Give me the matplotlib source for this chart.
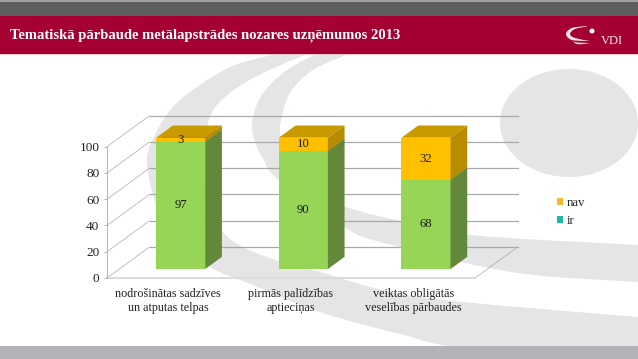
import matplotlib
matplotlib.use("Agg")
import matplotlib.pyplot as plt
from matplotlib.patches import Polygon, PathPatch, Ellipse, Rectangle, Patch
from matplotlib.path import Path

W, H = 638, 359
title = "Tematiskā pārbaude metālapstrādes nozares uzņēmumos 2013"
categories = ["nodrošinātas sadzīves\nun atputas telpas",
              "pirmās palīdzības\naptieciņas",
              "veiktas obligātās\nveselības pārbaudes"]
ir_values = [97, 90, 68]
nav_values = [3, 10, 32]
y_ticks = [0, 20, 40, 60, 80, 100]

plt.rcParams["font.family"] = ["Liberation Serif", "DejaVu Serif"]
fig = plt.figure(figsize=(W / 100, H / 100), dpi=100, facecolor="white")

# ---------- slide background (pixel coordinates) ----------
bg = fig.add_axes([0, 0, 1, 1], zorder=0)
bg.set_xlim(0, W)
bg.set_ylim(H, 0)
bg.axis("off")


def smooth(points):
    verts = [points[0]]
    codes = [Path.MOVETO]
    n = len(points)
    for i in range(n - 1):
        p0 = points[max(i - 1, 0)]
        p1 = points[i]
        p2 = points[i + 1]
        p3 = points[min(i + 2, n - 1)]
        c1 = (p1[0] + (p2[0] - p0[0]) / 6, p1[1] + (p2[1] - p0[1]) / 6)
        c2 = (p2[0] - (p3[0] - p1[0]) / 6, p2[1] - (p3[1] - p1[1]) / 6)
        verts += [c1, c2, p2]
        codes += [Path.CURVE4] * 3
    return verts, codes


def band(outer, inner, color="#e5e5e5", z=1, ax=bg):
    v1, c1 = smooth(outer)
    v2, c2 = smooth(inner[::-1])
    c2[0] = Path.LINETO
    ax.add_patch(PathPatch(Path(v1 + v2 + [v1[0]], c1 + c2 + [Path.CLOSEPOLY]),
                           fc=color, ec="none", zorder=z))


band([(290, 52), (263, 57), (230, 67), (197, 87), (173, 107), (156, 133), (147, 165), (165, 225),
      (207, 265), (253, 285), (320, 312), (400, 334), (470, 348), (638, 348)],
     [(312, 52), (263, 73), (230, 93), (210, 117), (203, 165), (223, 232), (280, 262),
      (320, 272), (420, 297), (638, 317)])
band([(320, 52), (287, 70), (263, 93), (253, 117), (253, 135), (262, 157), (282, 182), (346, 207),
      (400, 221), (470, 235), (638, 245)],
     [(354, 52), (313, 70), (290, 93), (282, 117), (281, 137), (300, 180), (346, 228), (400, 247),
      (518, 273), (638, 282)])
bg.add_patch(Ellipse((569, 123), 138, 108, fc="#e5e5e5", ec="none", zorder=1))

bg.add_patch(Rectangle((0, 0), W, 16, fc="#5e5e5e", ec="none", zorder=2))
bg.add_patch(Rectangle((0, 0), W, 1.5, fc="#a0a0a0", ec="none", zorder=2))
bg.add_patch(Rectangle((0, 16), W, 38, fc="#a50034", ec="none", zorder=2))
bg.add_patch(Rectangle((0, 54), W, 1, fc="#f0c8d0", ec="none", zorder=2))
bg.add_patch(Rectangle((0, 346), W, 13, fc="#b2b3b7", ec="none", zorder=2))
bg.text(10, 35.5, title, color="white", fontsize=10.5, fontweight="bold",
        va="center", ha="left", zorder=3)

# logo
for out, inn, in [([(587, 26), (572, 28), (566, 34), (572, 40), (590, 41)],
                   [(587, 26.5), (575, 29), (570, 34), (575, 38), (590, 41)]),
                  ([(590, 43), (575, 42), (569, 37)],
                   [(590, 43), (577, 44), (569, 37)])]:
    band(out, inn, color="#f8e6ea", z=3)
bg.add_patch(Ellipse((592, 31), 5, 5, fc="white", ec="none", zorder=3))
bg.text(611.5, 41, "VDI", color="#f8e6ea", fontsize=9, ha="center", va="center", zorder=3)

# ---------- chart ----------
AX_L, AX_R, AX_B, AX_T = 107, 475, 278, 146.7
ax = fig.add_axes([AX_L / W, 1 - AX_B / H, (AX_R - AX_L) / W, (AX_B - AX_T) / H], zorder=2)
ax.patch.set_alpha(0)
ax.set_xlim(-0.5, 2.5)
ax.set_ylim(0, 100)

DX = 0.3465   # wall depth, x data units
DY = 23.6     # wall depth, y data units


def proj(x, v, d):
    return (x + d * DX, v + d * DY)


GRID = "#a9a9a9"
for v in y_ticks:
    x0, y0 = proj(-0.5, v, 0)
    x1, y1 = proj(-0.5, v, 1)
    x2, y2 = proj(2.5, v, 1)
    ax.plot([x0, x1], [y0, y1], color=GRID, lw=0.5, clip_on=False, zorder=1)
    ax.plot([x1, x2], [y1, y2], color=GRID, lw=0.9, clip_on=False, zorder=1)
x0, y0 = proj(2.5, 0, 0)
x1, y1 = proj(2.5, 0, 1)
ax.plot([x0, x1], [y0, y1], color=GRID, lw=0.5, clip_on=False, zorder=1)
ax.plot([-0.5, 2.5], [0, 0], color="#dcdcdc", lw=1.4, clip_on=False, zorder=1)

WIDTH = 0.4
D0, D1 = 0.29, 0.683
COL = {"ir": ("#97d557", "#64883a", "#64883a"), "nav": ("#ffc000", "#b88c00", "#c99a00")}


def draw_bar(i, bottom, value, cols, z):
    front, side, top_c = cols
    xl, xr = i - WIDTH / 2, i + WIDTH / 2
    top = bottom + value
    fx, fy = proj(xl, bottom, D0)
    ax.bar(fx + WIDTH / 2, value, WIDTH, bottom=fy, color=front, linewidth=0, clip_on=False, zorder=z)
    ax.add_patch(Polygon([proj(xr, bottom, D0), proj(xr, top, D0), proj(xr, top, D1), proj(xr, bottom, D1)],
                         closed=True, fc=side, ec="none", clip_on=False, zorder=z))
    ax.add_patch(Polygon([proj(xl, top, D0), proj(xr, top, D0), proj(xr, top, D1), proj(xl, top, D1)],
                         closed=True, fc=top_c, ec="none", clip_on=False, zorder=z))
    cx, cy = proj(i, bottom + value / 2, D0)
    ax.text(cx, cy, str(value), ha="center", va="center", fontsize=9.2, color="#1a1a1a",
            clip_on=False, zorder=z + 1)


for i in range(len(categories)):
    draw_bar(i, 0, ir_values[i], COL["ir"], 3)
    draw_bar(i, ir_values[i], nav_values[i], COL["nav"], 3)

for s in ["top", "right", "bottom"]:
    ax.spines[s].set_visible(False)
ax.spines["left"].set_color(GRID)
ax.spines["left"].set_linewidth(0.6)
ax.set_yticks(y_ticks)
ax.set_yticklabels([str(v) for v in y_ticks], fontsize=9.5, color="#222222")
ax.tick_params(axis="y", length=2.5, width=0.6, color=GRID, pad=3)
ax.set_xticks(range(len(categories)))
ax.set_xticklabels(categories, fontsize=8.7, color="#222222", linespacing=1.2)
ax.tick_params(axis="x", length=0, pad=7)

handles = [Patch(fc="#f5b92c", ec="none", label="nav"), Patch(fc="#21b8a0", ec="none", label="ir")]
fig.legend(handles=handles, loc="upper left", bbox_to_anchor=(557 / W, 1 - 197 / H), frameon=False,
           fontsize=9.2, handlelength=0.48, handleheight=0.48, handletextpad=0.3, labelspacing=0.45,
           borderpad=0, borderaxespad=0, labelcolor="#222222")

fig.savefig("out.png", dpi=100)
